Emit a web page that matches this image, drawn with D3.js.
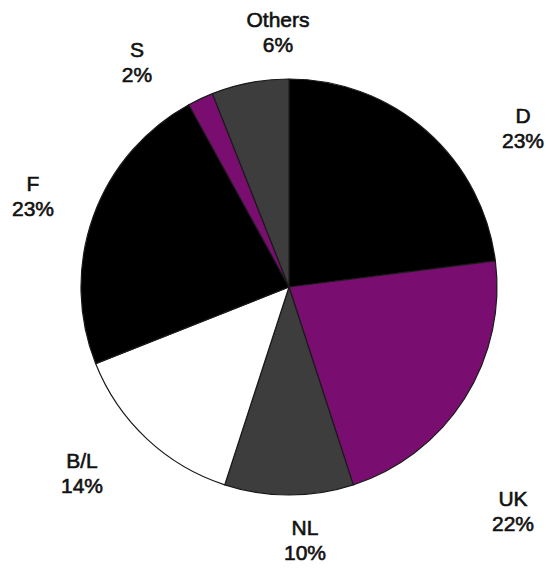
<!DOCTYPE html>
<html><head><meta charset="utf-8">
<script src="https://cdn.jsdelivr.net/npm/d3@7"></script>
<style>html,body{margin:0;padding:0;background:#fff;}svg{display:block;}</style>
</head><body>
<script>
const categories = ["D", "UK", "NL", "B/L", "F", "S", "Others"];
const shares = [23, 22, 10, 14, 23, 2, 6];
const colors = ["#000000", "#7a0d70", "#3d3d3d", "#ffffff", "#000000", "#7a0d70", "#3d3d3d"];
// label anchor: [centre x, first-line baseline]
const labelPos = [[523,123],[513,506],[305,535],[82,468],[33,191],[137,57],[278,27]];

const W = 546, H = 570, cx = 289, cy = 287, R = 208;
const svg = d3.select("body").append("svg").attr("width", W).attr("height", H);
const data = categories.map((c, i) => ({cat: c, v: shares[i], color: colors[i], pos: labelPos[i]}));
const pie = d3.pie().value(d => d.v).sort(null);
const arc = d3.arc().innerRadius(0).outerRadius(R);
const g = svg.append("g").attr("transform", `translate(${cx},${cy})`);
g.selectAll("path").data(pie(data)).join("path")
  .attr("d", arc).attr("fill", d => d.data.color)
  .attr("stroke", "#1a1a1a").attr("stroke-width", 1.2).attr("stroke-linejoin", "round");

const lab = svg.append("g").attr("font-family", "'Liberation Sans', Arial, Helvetica, sans-serif")
  .attr("font-size", 21).attr("fill", "#111").attr("text-anchor", "middle");
data.forEach(d => {
  const t = lab.append("text").attr("x", d.pos[0]).attr("y", d.pos[1])
    .attr("stroke", "#111").attr("stroke-width", 0.6);
  t.append("tspan").attr("x", d.pos[0]).text(d.cat);
  t.append("tspan").attr("x", d.pos[0]).attr("dy", 25).text(d.v + "%");
});
</script>
</body></html>
